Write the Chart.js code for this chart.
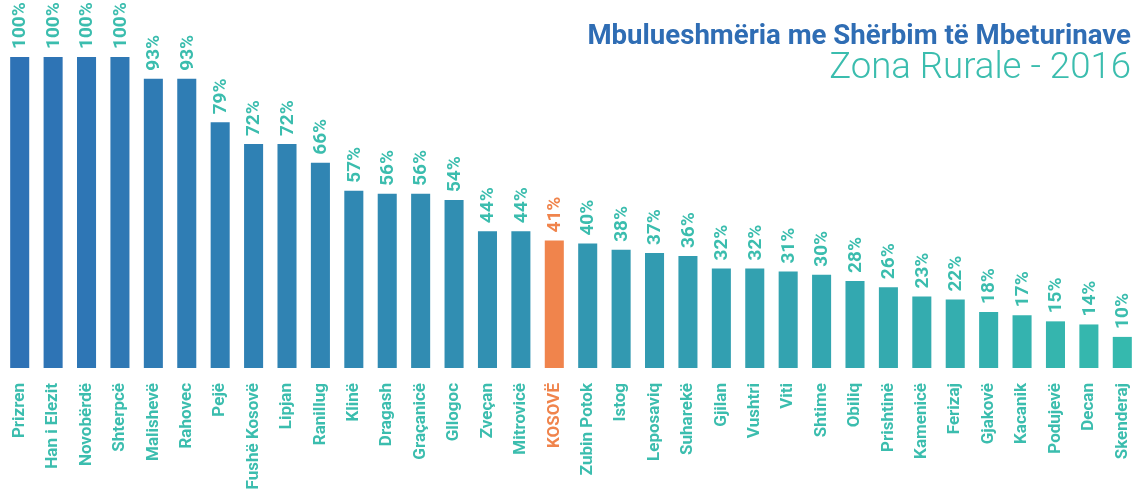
<!DOCTYPE html>
<html>
<head>
<meta charset="utf-8">
<script src="https://cdn.jsdelivr.net/npm/chart.js@4.4.0/dist/chart.umd.min.js"></script>
<style>
  html, body { margin: 0; padding: 0; background: #fff; }
  #wrap { width: 1143px; height: 490px; position: relative; }
</style>
</head>
<body>
<div id="wrap"><canvas id="wasteChart" width="1143" height="490"></canvas></div>
<script>
// komunat dhe mbulueshmëria (%)
const municipalities = ['Prizren', 'Han i Elezit', 'Novobërdë', 'Shterpcë', 'Malishevë', 'Rahovec', 'Pejë',
	'Fushë Kosovë', 'Lipjan', 'Ranillug', 'Klinë', 'Dragash', 'Graçanicë', 'Gllogoc', 'Zveçan', 'Mitrovicë',
	'KOSOVË', 'Zubin Potok', 'Istog', 'Leposaviq', 'Suharekë', 'Gjilan', 'Vushtri', 'Viti', 'Shtime', 'Obiliq',
	'Prishtinë', 'Kamenicë', 'Ferizaj', 'Gjakovë', 'Kacanik', 'Podujevë', 'Decan', 'Skenderaj'];
const coverage = [100, 100, 100, 100, 93, 93, 79, 72, 72, 66, 57, 56, 56, 54, 44, 44,
	41, 40, 38, 37, 36, 32, 32, 31, 30, 28, 26, 23, 22, 18, 17, 15, 14, 10];
const highlight = 'KOSOVË';
const titleText = 'Mbulueshmëria me Shërbim të Mbeturinave';
const subtitleText = 'Zona Rurale - 2016';

const blueStart = [46, 114, 181];
const tealEnd = [53, 185, 174];
const orange = '#f0844c';
const teal = '#3bbdae';
const narrow = '"Liberation Sans Narrow", "Roboto", sans-serif';

// ngjyrat e shtyllave: nga blu ne gjelbër
const barColors = municipalities.map((name, i) => {
	if (name === highlight) return orange;
	const t = i / (municipalities.length - 1);
	const c = blueStart.map((v, k) => Math.round(v + (tealEnd[k] - v) * t));
	return 'rgb(' + c.join(',') + ')';
});
const labelColors = municipalities.map(name => name === highlight ? orange : teal);

// vlerat mbi shtylla dhe titulli
const labelsPlugin = {
	id: 'valueLabels',
	afterDatasetsDraw(chart) {
		const ctx = chart.ctx;
		const meta = chart.getDatasetMeta(0);
		ctx.save();
		ctx.font = 'bold 19px ' + narrow;
		ctx.textBaseline = 'middle';
		ctx.textAlign = 'left';
		meta.data.forEach((bar, i) => {
			ctx.save();
			ctx.translate(bar.x + 1, bar.y - 8);
			ctx.rotate(-Math.PI / 2);
			ctx.fillStyle = labelColors[i];
			ctx.fillText(coverage[i] + '%', 0, 0);
			ctx.restore();
		});
		ctx.restore();

		// titulli
		ctx.save();
		ctx.textAlign = 'right';
		ctx.textBaseline = 'alphabetic';
		ctx.fillStyle = '#2f6db4';
		let size = 26;
		ctx.font = 'bold ' + size + 'px Roboto, sans-serif';
		size = size * 543 / ctx.measureText(titleText).width;
		ctx.font = 'bold ' + size.toFixed(1) + 'px Roboto, sans-serif';
		ctx.fillText(titleText, 1131, 44);
		ctx.fillStyle = teal;
		size = 28;
		ctx.font = '300 ' + size + 'px Roboto, sans-serif';
		size = size * 302 / ctx.measureText(subtitleText).width;
		ctx.font = '300 ' + size.toFixed(1) + 'px Roboto, sans-serif';
		ctx.fillText(subtitleText, 1131, 78);
		ctx.restore();
	}
};

const ctx = document.getElementById('wasteChart').getContext('2d');
const wasteChart = new Chart(ctx, {
	type: 'bar',
	data: {
		labels: municipalities,
		datasets: [
			{
				data: coverage,
				backgroundColor: barColors,
				borderWidth: 0,
				barPercentage: 0.57,
				categoryPercentage: 1
			}
		]
	},
	options: {
		responsive: false,
		animation: false,
		layout: {
			padding: { top: 57, left: 3, right: 4, bottom: 0 }
		},
		plugins: {
			legend: { display: false },
			tooltip: { enabled: false }
		},
		scales: {
			x: {
				grid: { display: false, drawTicks: false },
				border: { display: false },
				ticks: {
					minRotation: 90,
					maxRotation: 90,
					autoSkip: false,
					padding: 15,
					color: labelColors,
					font: { family: narrow, size: 17, weight: 'bold' }
				},
				afterFit(scale) {
					scale.height = 122; // lartësia fikse e etiketave
					scale.paddingLeft = 0;
					scale.paddingRight = 0;
				}
			},
			y: {
				display: false,
				min: 0,
				max: 100
			}
		}
	},
	plugins: [labelsPlugin]
});
</script>
</body>
</html>
